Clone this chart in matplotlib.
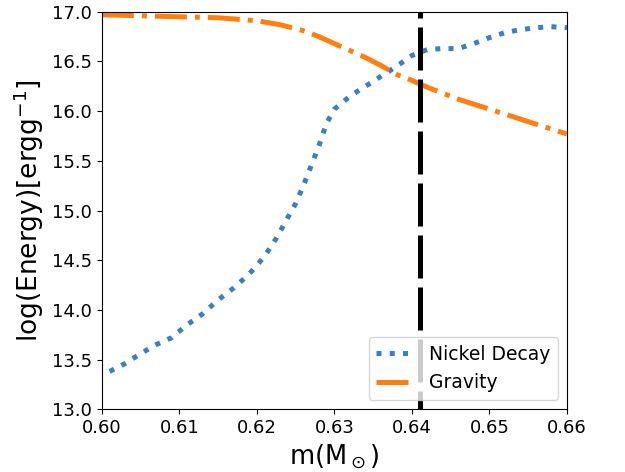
import numpy as np
import matplotlib
matplotlib.use('Agg')
import matplotlib.pyplot as plt

# nickel decay energy (blue dotted)
m_ni = [0.601, 0.603, 0.605, 0.607, 0.609, 0.611, 0.613, 0.615, 0.617, 0.619,
        0.621, 0.6225, 0.624, 0.625, 0.626, 0.627, 0.628, 0.629, 0.630, 0.632,
        0.634, 0.636, 0.638, 0.640, 0.642, 0.644, 0.646, 0.648, 0.650, 0.652,
        0.654, 0.656, 0.658, 0.660]
e_ni = [13.38, 13.46, 13.56, 13.65, 13.72, 13.85, 13.96, 14.10, 14.22, 14.36,
        14.54, 14.72, 14.93, 15.07, 15.25, 15.45, 15.65, 15.88, 16.02, 16.15,
        16.25, 16.35, 16.45, 16.56, 16.62, 16.63, 16.63, 16.68, 16.74, 16.79,
        16.82, 16.84, 16.85, 16.84]

# gravitational energy (orange dash-dot)
m_gr = [0.600, 0.605, 0.610, 0.615, 0.620, 0.623, 0.626, 0.628, 0.630, 0.632,
        0.634, 0.636, 0.638, 0.640, 0.642, 0.644, 0.646, 0.648, 0.650, 0.652,
        0.654, 0.656, 0.658, 0.660]
e_gr = [16.97, 16.96, 16.95, 16.94, 16.91, 16.87, 16.81, 16.75, 16.68, 16.61,
        16.54, 16.46, 16.37, 16.31, 16.24, 16.18, 16.12, 16.07, 16.02, 15.97,
        15.92, 15.87, 15.82, 15.77]

m_cut = 0.641

fig = plt.figure(figsize=(6.25, 4.72), dpi=100)
ax = fig.add_axes([0.163, 0.133, 0.744, 0.842])

ax.plot(m_ni, e_ni, ':', color='#3a7fc1', lw=3.6, label='Nickel Decay')
ax.plot(m_gr, e_gr, '-.', color='#ff7f0e', lw=3.6, label='Gravity')
ax.axvline(m_cut, color='k', lw=3.6, linestyle=(5.0, (8.6, 1.8)))

ax.set_xlim(0.60, 0.66)
ax.set_ylim(13.0, 17.0)
ax.set_xticks(np.arange(0.60, 0.661, 0.01))
ax.set_yticks(np.arange(13.0, 17.01, 0.5))
ax.tick_params(labelsize=13)
ax.set_xlabel(r'm(M$_\odot$)', fontsize=18.5)
ax.set_ylabel(r'log(Energy)[ergg$^{-1}$]', fontsize=19)
ax.legend(loc='lower right', fontsize=13.5)

plt.savefig('out.png')
